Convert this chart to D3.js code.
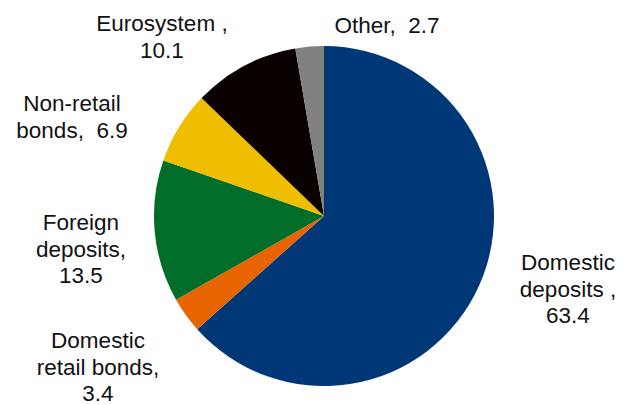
<!DOCTYPE html>
<html>
<head>
<meta charset="utf-8">
<script src="https://cdn.jsdelivr.net/npm/d3@7"></script>
<style>
  html, body { margin: 0; padding: 0; background: #fff; }
  svg { display: block; }
  text { font-family: "Liberation Sans", Arial, sans-serif; font-size: 22.5px; fill: #111; }
</style>
</head>
<body>
<svg id="chart" width="625" height="405"></svg>
<script>
// Funding sources, per cent of total
const categories = ["Domestic deposits", "Domestic retail bonds", "Foreign deposits", "Non-retail bonds", "Eurosystem", "Other"];
const values = [63.4, 3.4, 13.5, 6.9, 10.1, 2.7];
const colors = ["#003776", "#e86400", "#006e28", "#f0be00", "#0a0000", "#808080"];
// Label text, one line per entry
const labelLines = [
  ["Domestic", "deposits ,", "63.4"],
  ["Domestic", "retail bonds,", "3.4"],
  ["Foreign", "deposits,", "13.5"],
  ["Non-retail", "bonds,  6.9"],
  ["Eurosystem ,", "10.1"],
  ["Other,  2.7"]
];
// Label anchor points (centre of first line)
const labelPos = [[568, 262], [98, 340], [81, 222], [72, 103], [162, 23], [387, 25]];

const svg = d3.select("#chart");
const cx = 324, cy = 216, r = 170;
const lineH = 26.5;

const data = categories.map((c, i) => ({ name: c, value: values[i], color: colors[i], lines: labelLines[i], pos: labelPos[i] }));

const pie = d3.pie().value(d => d.value).sort(null);
const arc = d3.arc().innerRadius(0).outerRadius(r);

const g = svg.append("g").attr("transform", `translate(${cx},${cy})`);
g.selectAll("path")
  .data(pie(data))
  .join("path")
  .attr("d", arc)
  .attr("fill", d => d.data.color);

const labels = svg.append("g");
data.forEach(d => {
  const t = labels.append("text")
    .attr("text-anchor", "middle")
    .attr("x", d.pos[0])
    .attr("y", d.pos[1])
    .attr("dominant-baseline", "central");
  d.lines.forEach((ln, j) => {
    t.append("tspan")
      .attr("x", d.pos[0])
      .attr("y", d.pos[1] + j * lineH)
      .attr("xml:space", "preserve")
      .style("white-space", "pre")
      .text(ln);
  });
});
</script>
</body>
</html>
